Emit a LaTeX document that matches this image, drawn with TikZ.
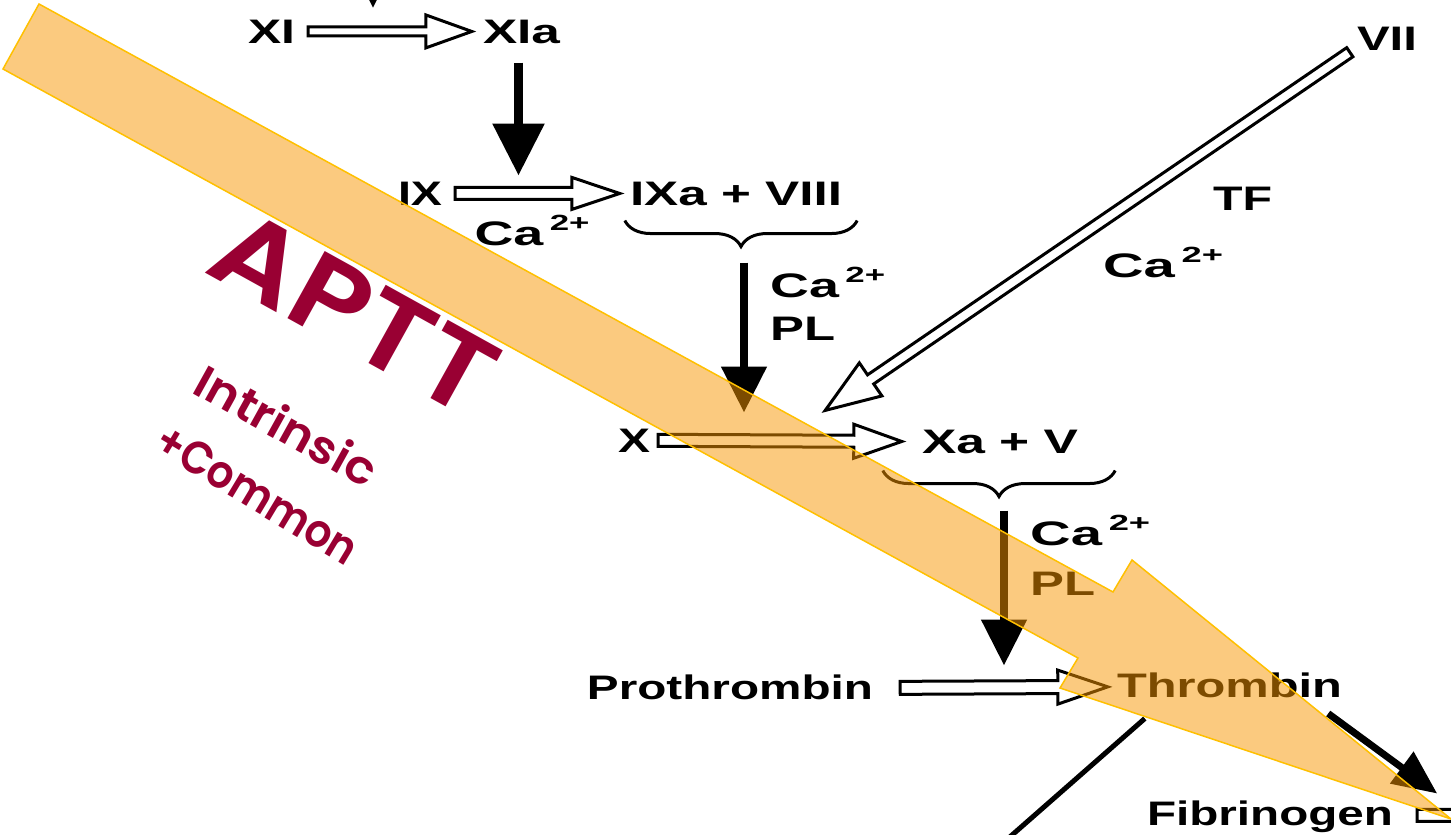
\documentclass[tikz,border=0pt]{standalone}
\usepackage{fontspec}
\usepackage{graphicx}
\usetikzlibrary{calc,arrows.meta,decorations.pathreplacing}
\newfontfamily\dfont{Liberation Sans}
\newfontfamily\cfont{Poppins}[UprightFont={* SemiBold}, BoldFont={* SemiBold}]
\definecolor{apttred}{RGB}{153,0,51}
\definecolor{ovfill}{RGB}{248,150,0}
\definecolor{ovline}{RGB}{255,192,0}
\newcommand\fitw[2]{\resizebox{#1}{\height}{#2}}
\newcommand\cat{Ca\hspace{0.12em}\raisebox{0.42em}{\fontsize{22}{22}\selectfont 2+}}
% hollow arrow: start, end, shaft half width, barb half width, head length
\newcommand\harrow[5]{%
  \path #1 coordinate (hs) #2 coordinate (he);
  \coordinate (hh) at ($(he)!#5pt!(hs)$);
  \draw[hollow] ($(hs)!#3pt!90:(he)$) -- ($(hh)!#3pt!-90:(hs)$) -- ($(hh)!#4pt!-90:(hs)$)
    -- (he) -- ($(hh)!#4pt!90:(hs)$) -- ($(hh)!#3pt!90:(hs)$) -- ($(hs)!#3pt!-90:(he)$) -- cycle;
}
\begin{document}
\begin{tikzpicture}[x=1pt,y=-1pt,
  lb/.style={inner sep=0pt, anchor=base, font=\dfont\bfseries\fontsize{34}{40}\selectfont},
  hollow/.style={draw=black, line width=3pt, fill=white, line join=miter},
  blkA/.style={line width=9pt, -{Triangle[length=52pt,width=50pt]}},
  blkB/.style={line width=8pt, -{Triangle[length=46pt,width=44pt]}},
  blkC/.style={line width=7pt, -{Triangle[length=44pt,width=38pt]}},
  brc/.style={line width=3pt, decorate, decoration={brace, amplitude=26pt, mirror}},
  cmc/.style={inner sep=0pt, text=apttred, font=\cfont}
]
\useasboundingbox (0,0) rectangle (1451,835);
\clip (0,0) rectangle (1451,835);
\fill[white] (0,0) rectangle (1451,835);

% labels
\node[lb] (XI) at (271.5,43) {\fitw{47pt}{XI}};
\node[lb] (XIa) at (521.5,43) {\fitw{77pt}{XIa}};
\node[lb] (IX) at (420,205) {\fitw{44pt}{IX}};
\node[lb] (IXa) at (736,205) {\fitw{212pt}{IXa + VIII}};
\node[lb] (ca1) at (532,245) {\fitw{115pt}{\cat}};
\node[lb, anchor=base west] (ca2) at (770,297) {\fitw{115pt}{\cat}};
\node[lb, anchor=base west] (pl1) at (770,340) {\fitw{65pt}{PL}};
\node[lb] (VII) at (1387,50) {\fitw{60pt}{VII}};
\node[lb] (TF) at (1242.5,210) {\fitw{59pt}{TF}};
\node[lb] (ca3) at (1163,277) {\fitw{120pt}{\cat}};
\node[lb] (X) at (634,452) {\fitw{32pt}{X}};
\node[lb] (Xa) at (1000,453) {\fitw{156pt}{Xa + V}};
\node[lb, anchor=base west] (ca4) at (1030,545) {\fitw{120pt}{\cat}};
\node[lb, anchor=base west] (pl2) at (1030,595) {\fitw{65pt}{PL}};
\node[lb] (Pro) at (730,699) {\fitw{286pt}{Prothrombin}};
\node[lb] (Thr) at (1229.5,697) {\fitw{225pt}{Thrombin}};
\node[lb] (Fib) at (1270,825) {\fitw{246pt}{Fibrinogen}};

% hollow arrows
\harrow{($(XI.east)+(13,0)$)}{($(XIa.west)+(-11,0)$)}{4.5}{16.5}{46}
\harrow{($(IX.east)+(13,0)$)}{($(IXa.west)+(-10,0)$)}{6}{16}{48}
\harrow{($(X.east)+(8,0)$)}{($(Xa.west)+(-20,0)$)}{6}{17}{48}
\harrow{($(Pro.east)+(27,1)$)}{($(Thr.west)+(-9,2)$)}{6.5}{17}{50}
\harrow{($(VII.south west)+(-7,2)$)}{($(X.north east)+(175,-18)$)}{5.5}{20}{55}
\harrow{($(Fib.east)+(24,-1)$)}{($(Fib.east)+(220,-1)$)}{6}{17}{48}

% braces
\coordinate (b1s) at ($(IXa.south west)+(-5,15)$);
\coordinate (b1e) at ($(IXa.south east)+(15,15)$);
\draw[brc] (b1s) -- (b1e);
\coordinate (b2s) at ($(Xa.south west)+(-39,17)$);
\coordinate (b2e) at ($(Xa.south east)+(37,17)$);
\draw[brc] (b2s) -- (b2e);

% black arrows
\coordinate (top0) at (373,-80);
\coordinate (top1) at (373,8);
\draw[blkB] (top0) -- (top1);
\draw[blkA] ($(XIa.south)+(-3,19)$) -- ($(XIa.south)+(-3,132)$);
\draw[blkB] ($(b1s)!0.5!(b1e)+(3,42)$) -- ($(b1s)!0.5!(b1e)+(3,192)$);
\draw[blkB] ($(b2s)!0.5!(b2e)+(5,40)$) -- ($(b2s)!0.5!(b2e)+(5,195)$);
\draw[blkC] ($(Thr.south east)+(-14,16)$) -- ($(Thr.south east)+(95,96)$);
\draw[line width=5pt] ($(Thr.south west)+(28,21)$) -- ($(Thr.south west)+(-127,157)$);

% overlay arrow
\coordinate (o1) at (39,4);
\coordinate (o2) at (1113,592);
\coordinate (o3) at (1132,560);
\coordinate (o4) at (1451,819);
\coordinate (o5) at (1060,688);
\coordinate (o6) at (1078,658);
\coordinate (o7) at (3,69);
\filldraw[fill=ovfill, fill opacity=0.5, draw=ovline, line width=1.5pt, line join=miter]
  (o1) -- (o2) -- (o3) -- (o4) -- (o5) -- (o6) -- (o7) -- cycle;

% overlay text
\node[cmc, rotate=-29] (aptt) at (355,312) {\fitw{305pt}{\fontsize{110}{120}\selectfont APTT}};
\node[cmc, rotate=-29] (intr) at (287,425) {\fitw{200pt}{\fontsize{46}{52}\selectfont Intrinsic}};
\node[cmc, rotate=-31] (comm) at (257,494) {\fitw{228pt}{\fontsize{46}{52}\selectfont +Common}};
\end{tikzpicture}
\end{document}
